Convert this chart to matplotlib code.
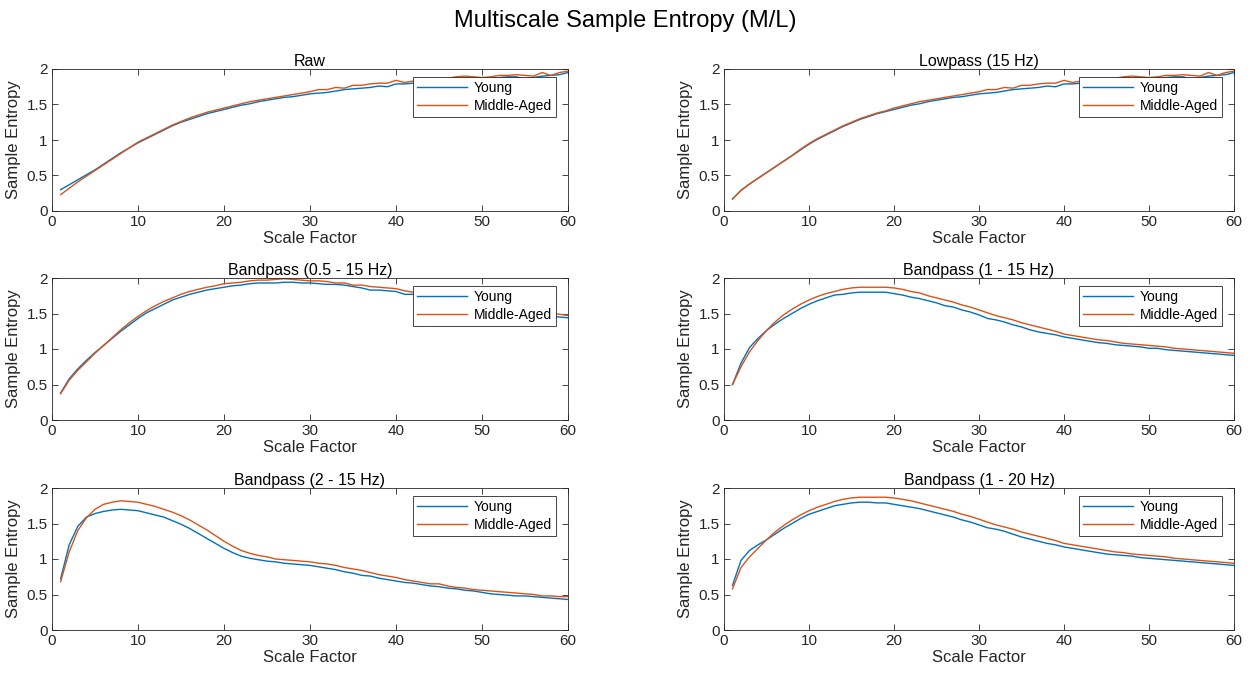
import matplotlib
matplotlib.use('Agg')

import numpy as np
import matplotlib.pyplot as plt

plt.rcParams['font.family'] = ['Liberation Sans', 'DejaVu Sans']

scale = np.arange(1, 61)

# ===== 各子图数据 (Young / Middle-Aged) =====
raw_young = [0.30, 0.37, 0.44, 0.51, 0.58, 0.66, 0.74, 0.82, 0.89, 0.96,
             1.02, 1.08, 1.14, 1.20, 1.25, 1.29, 1.33, 1.37, 1.40, 1.43,
             1.46, 1.49, 1.51, 1.54, 1.56, 1.58, 1.60, 1.61, 1.63, 1.65,
             1.66, 1.67, 1.69, 1.71, 1.72, 1.73, 1.74, 1.76, 1.75, 1.79,
             1.79, 1.80, 1.81, 1.83, 1.84, 1.85, 1.86, 1.86, 1.87, 1.86,
             1.86, 1.88, 1.89, 1.89, 1.86, 1.88, 1.90, 1.91, 1.92, 1.95]
raw_mid = [0.23, 0.32, 0.41, 0.49, 0.57, 0.65, 0.73, 0.81, 0.89, 0.97,
           1.03, 1.09, 1.15, 1.21, 1.26, 1.31, 1.35, 1.39, 1.42, 1.45,
           1.48, 1.51, 1.54, 1.56, 1.58, 1.60, 1.62, 1.64, 1.66, 1.68,
           1.71, 1.71, 1.74, 1.73, 1.77, 1.77, 1.79, 1.80, 1.80, 1.84,
           1.81, 1.83, 1.84, 1.85, 1.86, 1.87, 1.89, 1.90, 1.89, 1.88,
           1.89, 1.91, 1.91, 1.92, 1.91, 1.90, 1.95, 1.91, 1.95, 1.97]

low_young = [0.17, 0.29, 0.38, 0.46, 0.54, 0.62, 0.70, 0.78, 0.86, 0.94,
             1.01, 1.07, 1.13, 1.19, 1.24, 1.29, 1.33, 1.37, 1.40, 1.43,
             1.46, 1.49, 1.51, 1.54, 1.56, 1.58, 1.60, 1.61, 1.63, 1.65,
             1.66, 1.67, 1.69, 1.71, 1.72, 1.73, 1.74, 1.76, 1.75, 1.79,
             1.79, 1.80, 1.81, 1.83, 1.84, 1.85, 1.86, 1.86, 1.87, 1.86,
             1.86, 1.88, 1.89, 1.89, 1.86, 1.88, 1.90, 1.91, 1.92, 1.95]
low_mid = [0.17, 0.29, 0.38, 0.46, 0.54, 0.62, 0.70, 0.78, 0.87, 0.95,
           1.02, 1.08, 1.14, 1.20, 1.25, 1.30, 1.34, 1.38, 1.41, 1.45,
           1.48, 1.51, 1.54, 1.56, 1.58, 1.60, 1.62, 1.64, 1.66, 1.68,
           1.71, 1.71, 1.74, 1.73, 1.77, 1.77, 1.79, 1.80, 1.80, 1.84,
           1.81, 1.83, 1.84, 1.85, 1.86, 1.87, 1.89, 1.90, 1.89, 1.88,
           1.89, 1.91, 1.91, 1.92, 1.91, 1.90, 1.95, 1.91, 1.95, 1.97]

bp05_15_young = [0.38, 0.58, 0.72, 0.84, 0.95, 1.05, 1.15, 1.25, 1.34, 1.43,
                 1.51, 1.57, 1.63, 1.69, 1.73, 1.77, 1.80, 1.83, 1.85, 1.87,
                 1.89, 1.90, 1.92, 1.93, 1.93, 1.93, 1.94, 1.94, 1.93, 1.93,
                 1.92, 1.91, 1.91, 1.90, 1.88, 1.86, 1.83, 1.83, 1.82, 1.81,
                 1.77, 1.77, 1.77, 1.76, 1.75, 1.73, 1.71, 1.69, 1.67, 1.65,
                 1.62, 1.60, 1.57, 1.55, 1.52, 1.50, 1.48, 1.46, 1.45, 1.44]
bp05_15_mid = [0.37, 0.56, 0.70, 0.82, 0.94, 1.05, 1.16, 1.27, 1.37, 1.46,
               1.54, 1.61, 1.67, 1.72, 1.77, 1.81, 1.84, 1.87, 1.89, 1.92,
               1.93, 1.94, 1.96, 1.97, 1.97, 1.98, 1.99, 1.98, 1.97, 1.96,
               1.96, 1.95, 1.93, 1.93, 1.90, 1.90, 1.88, 1.87, 1.86, 1.85,
               1.82, 1.80, 1.79, 1.78, 1.77, 1.75, 1.73, 1.71, 1.69, 1.67,
               1.65, 1.62, 1.60, 1.58, 1.56, 1.54, 1.52, 1.50, 1.49, 1.47]

bp1_15_young = [0.50, 0.80, 1.02, 1.15, 1.26, 1.35, 1.43, 1.50, 1.57, 1.63,
                1.68, 1.72, 1.76, 1.77, 1.79, 1.80, 1.80, 1.80, 1.80, 1.78,
                1.76, 1.73, 1.71, 1.68, 1.65, 1.61, 1.59, 1.55, 1.52, 1.48,
                1.43, 1.41, 1.38, 1.34, 1.31, 1.27, 1.24, 1.22, 1.20, 1.17,
                1.15, 1.13, 1.11, 1.09, 1.08, 1.06, 1.05, 1.04, 1.03, 1.01,
                1.01, 0.99, 0.98, 0.97, 0.96, 0.95, 0.94, 0.93, 0.92, 0.91]
bp1_15_mid = [0.50, 0.75, 0.96, 1.12, 1.26, 1.38, 1.48, 1.56, 1.63, 1.69,
              1.74, 1.78, 1.81, 1.84, 1.86, 1.87, 1.87, 1.87, 1.87, 1.86,
              1.84, 1.81, 1.79, 1.75, 1.72, 1.69, 1.66, 1.62, 1.59, 1.55,
              1.51, 1.47, 1.44, 1.41, 1.37, 1.34, 1.31, 1.28, 1.25, 1.21,
              1.19, 1.17, 1.15, 1.13, 1.12, 1.10, 1.08, 1.07, 1.06, 1.05,
              1.04, 1.03, 1.01, 1.00, 0.99, 0.98, 0.97, 0.96, 0.95, 0.94]

bp2_15_young = [0.72, 1.20, 1.46, 1.59, 1.64, 1.67, 1.69, 1.70, 1.69, 1.68,
                1.65, 1.62, 1.59, 1.54, 1.49, 1.43, 1.36, 1.29, 1.22, 1.15,
                1.09, 1.04, 1.01, 0.99, 0.97, 0.96, 0.94, 0.93, 0.92, 0.91,
                0.89, 0.87, 0.85, 0.82, 0.80, 0.77, 0.76, 0.73, 0.71, 0.69,
                0.67, 0.66, 0.64, 0.62, 0.61, 0.59, 0.58, 0.56, 0.55, 0.53,
                0.51, 0.50, 0.49, 0.48, 0.48, 0.47, 0.46, 0.45, 0.44, 0.43]
bp2_15_mid = [0.68, 1.10, 1.40, 1.58, 1.70, 1.77, 1.80, 1.82, 1.81, 1.80,
              1.77, 1.74, 1.70, 1.66, 1.61, 1.55, 1.48, 1.41, 1.33, 1.25,
              1.18, 1.12, 1.08, 1.05, 1.03, 1.00, 0.99, 0.98, 0.97, 0.96,
              0.94, 0.93, 0.91, 0.88, 0.86, 0.84, 0.81, 0.78, 0.76, 0.74,
              0.71, 0.69, 0.67, 0.65, 0.65, 0.62, 0.60, 0.59, 0.57, 0.56,
              0.55, 0.54, 0.53, 0.52, 0.51, 0.50, 0.48, 0.48, 0.47, 0.47]

bp1_20_young = [0.63, 0.98, 1.12, 1.20, 1.27, 1.35, 1.43, 1.50, 1.57, 1.63,
                1.67, 1.71, 1.75, 1.77, 1.79, 1.80, 1.80, 1.79, 1.79, 1.77,
                1.75, 1.73, 1.71, 1.68, 1.65, 1.62, 1.59, 1.55, 1.52, 1.48,
                1.44, 1.42, 1.39, 1.35, 1.31, 1.28, 1.25, 1.22, 1.20, 1.17,
                1.15, 1.13, 1.11, 1.09, 1.07, 1.06, 1.05, 1.04, 1.02, 1.01,
                1.00, 0.99, 0.98, 0.97, 0.96, 0.95, 0.94, 0.93, 0.92, 0.91]
bp1_20_mid = [0.58, 0.88, 1.03, 1.15, 1.27, 1.38, 1.47, 1.55, 1.62, 1.68,
              1.73, 1.77, 1.81, 1.84, 1.86, 1.87, 1.87, 1.87, 1.87, 1.86,
              1.84, 1.82, 1.79, 1.76, 1.73, 1.70, 1.67, 1.63, 1.60, 1.56,
              1.52, 1.48, 1.45, 1.42, 1.38, 1.35, 1.32, 1.29, 1.26, 1.22,
              1.20, 1.18, 1.16, 1.14, 1.12, 1.10, 1.09, 1.07, 1.06, 1.05,
              1.04, 1.03, 1.01, 1.00, 0.99, 0.98, 0.97, 0.96, 0.95, 0.94]

titles = ['Raw', 'Lowpass (15 Hz)', 'Bandpass (0.5 - 15 Hz)',
          'Bandpass (1 - 15 Hz)', 'Bandpass (2 - 15 Hz)', 'Bandpass (1 - 20 Hz)']
young_all = [raw_young, low_young, bp05_15_young, bp1_15_young, bp2_15_young, bp1_20_young]
mid_all = [raw_mid, low_mid, bp05_15_mid, bp1_15_mid, bp2_15_mid, bp1_20_mid]

# ===== 画图 (MATLAB 风格) =====
txt = '#262626'
fig = plt.figure(figsize=(12.5, 6.75), dpi=100)
fig.suptitle('Multiscale Sample Entropy (M/L)', fontsize=17, y=0.985, color='black')

lefts = [52 / 1250, 724 / 1250]
widths = [516 / 1250, 510 / 1250]
tops = [69, 278, 488]
h = 142 / 675

for i in range(6):
    r, c = divmod(i, 2)
    ax = fig.add_axes([lefts[c], 1 - (tops[r] + 142) / 675, widths[c], h])
    ax.plot(scale, young_all[i], color='#0072BD', lw=1, label='Young')
    ax.plot(scale, mid_all[i], color='#D95319', lw=1, label='Middle-Aged')
    ax.set_xlim(0, 60)
    ax.set_ylim(0, 2)
    ax.set_xticks(range(0, 61, 10))
    ax.set_yticks([0, 0.5, 1, 1.5, 2])
    ax.set_yticklabels(['0', '0.5', '1', '1.5', '2'])
    ax.tick_params(direction='in', top=True, right=True, labelsize=11,
                   colors=txt, length=4, width=0.6, pad=3)
    for s in ax.spines.values():
        s.set_color(txt)
        s.set_linewidth(0.6)
    ax.set_title(titles[i], fontsize=11.5, color='black', pad=2)
    ax.set_xlabel('Scale Factor', fontsize=12, color=txt, labelpad=1)
    ax.set_ylabel('Sample Entropy', fontsize=12, color=txt, labelpad=4)
    leg = ax.legend(loc='upper right', bbox_to_anchor=(1 - 12 / 516, 1 - 8 / 142),
                    borderaxespad=0, fontsize=10, fancybox=False, framealpha=1,
                    handlelength=3.6, handletextpad=0.5, borderpad=0.3,
                    labelspacing=0.25)
    leg.get_frame().set_edgecolor(txt)
    leg.get_frame().set_linewidth(0.6)

plt.savefig('out.png', dpi=100)
